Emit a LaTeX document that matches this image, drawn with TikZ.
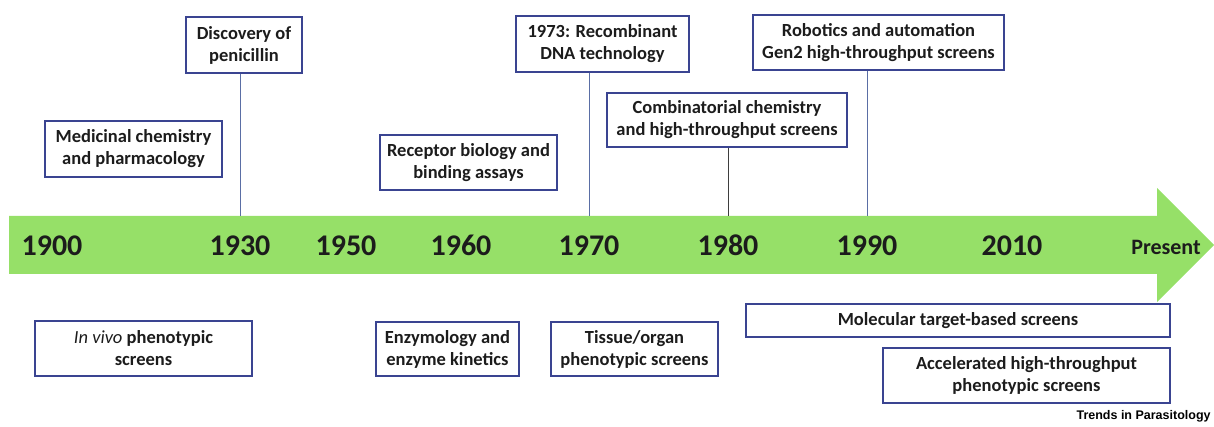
\documentclass[tikz,border=0pt]{standalone}
\usepackage{fontspec}
\setmainfont{Carlito}
\newfontfamily\creditfont{Liberation Sans}
\usepackage{tikz}
\usetikzlibrary{positioning}

\definecolor{bandgreen}{RGB}{150,224,104}
\definecolor{boxblue}{RGB}{58,68,145}
\definecolor{tickblue}{RGB}{90,110,165}
\definecolor{inkgray}{RGB}{28,28,28}

\begin{document}
\begin{tikzpicture}
    [ x = 1pt, y = -1pt
    , event/.style 2 args =
      { draw = boxblue, line width = 1.3pt, fill = white, align = center
      , inner sep = 0pt, minimum width = #1, minimum height = #2
      , text = inkgray, font = \fontsize{18.5}{22}\selectfont\bfseries }
    , year/.style =
      { anchor = base, text = inkgray, font = \fontsize{30}{30}\selectfont\bfseries }
    , tick/.style =
      { draw = tickblue, line width = .9pt }
    ]
    \useasboundingbox (0,0) rectangle (1214,427);

    % time line
    \fill [bandgreen] (9,216) -- (1157,216) -- (1157,188) -- (1214,245)
      -- (1157,302) -- (1157,274) -- (9,274) -- cycle;
    \coordinate (bandtop) at (0,216);

    \node [year] (y1900) at (52,256) {1900};
    \node [year] (y1930) at (240,256) {1930};
    \node [year] (y1950) at (346,256) {1950};
    \node [year] (y1960) at (461,256) {1960};
    \node [year] (y1970) at (589,256) {1970};
    \node [year] (y1980) at (728,256) {1980};
    \node [year] (y1990) at (867,256) {1990};
    \node [year] (y2010) at (1012,256) {2010};
    \node [year, font = \fontsize{22}{22}\selectfont\bfseries] (now) at (1166,255) {Present};

    % above the line
    \node [event={177pt}{56pt}] (medchem) at (133.5,149) {Medicinal chemistry\\and pharmacology};
    \node [event={116pt}{56pt}] (penicillin) at (244,45) {Discovery of\\penicillin};
    \node [event={177pt}{55pt}] (receptor) at (468.5,162.5) {Receptor biology and\\binding assays};
    \node [event={173pt}{56pt}] (dna) at (602.5,44) {1973: Recombinant\\DNA technology};
    \node [event={240pt}{54pt}] (combichem) at (727,120) {Combinatorial chemistry\\and high-throughput screens};
    \node [event={251pt}{55pt}] (robotics) at (878.5,42.5) {Robotics and automation\\Gen2 high-throughput screens};

    \draw [tick] (y1930 |- penicillin.south) -- (y1930 |- bandtop);
    \draw [tick] (y1970 |- dna.south) -- (y1970 |- bandtop);
    \draw [tick, draw = inkgray!85] (y1980 |- combichem.south) -- (y1980 |- bandtop);
    \draw [tick] (y1990 |- robotics.south) -- (y1990 |- bandtop);

    % below the line
    \node [event={217pt}{55pt}] (invivo) at (143.5,348.5) {{\mdseries\itshape In vivo} phenotypic\\screens};
    \node [event={143pt}{54pt}] (enzyme) at (447.5,349) {Enzymology and\\enzyme kinetics};
    \node [event={167pt}{54pt}] (tissue) at (634.5,349) {Tissue/organ\\phenotypic screens};
    \node [event={424pt}{33pt}] (target) at (958,320.5) {Molecular target-based screens};
    \node [event={287pt}{55pt}] (accel) at (1026.5,375.5) {Accelerated high-throughput\\phenotypic screens};

    \node [anchor = base west, text = black, font = \creditfont\bfseries\fontsize{12.5}{12.5}\selectfont] (credit) at (1073,419) {Trends in Parasitology};
\end{tikzpicture}
\end{document}
